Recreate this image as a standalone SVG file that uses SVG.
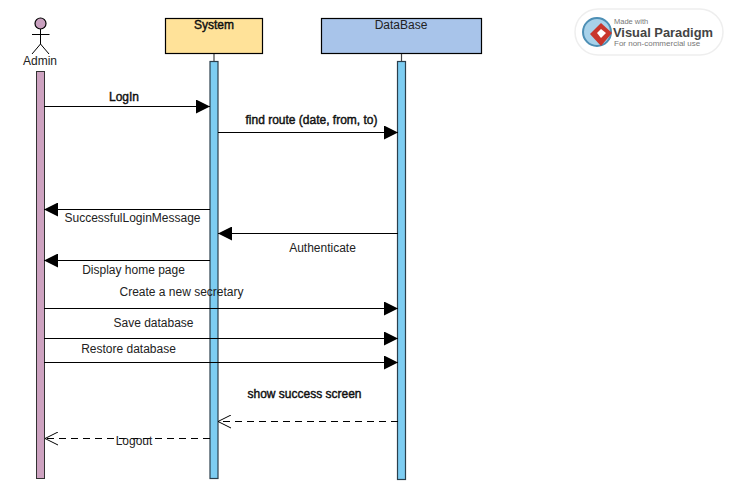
<svg xmlns="http://www.w3.org/2000/svg" width="730" height="490" viewBox="0 0 730 490">
<style>
text{font-family:"Liberation Sans",Arial,sans-serif;font-size:12px;fill:#222;text-anchor:middle}
.b{stroke:#000;stroke-width:.4px}
.m{fill:none;stroke:#000;stroke-width:1.2}
.d{stroke-dasharray:7 5}
.bar{stroke:#2b3f4c;stroke-width:1.2}
.ll{stroke:#444;stroke-width:1.2}
</style>
<defs>
<marker id="f" markerUnits="userSpaceOnUse" markerWidth="15" markerHeight="14" refX="14" refY="7" orient="auto"><path d="M0,0L14,7L0,14Z" fill="#000"/></marker>
<marker id="o" markerUnits="userSpaceOnUse" markerWidth="15" markerHeight="14" refX="14" refY="7" orient="auto"><path d="M1,0.500L14,7L1,13.500" fill="none" stroke="#000" stroke-width="1"/></marker>
</defs>
<rect width="730" height="490" fill="#fff"/>
<g id="admin">
<circle cx="40.500" cy="23.500" r="5.500" fill="#c9a0bf" stroke="#000" stroke-width="1.200"/>
<path d="M40.500 29V44M32 34.500H49.500M40.500 44L32 54M40.500 44L49 54" fill="none" stroke="#000"/>
<text x="40" y="65" fill="#333">Admin</text>
<rect x="36.500" y="71.500" width="8" height="407" fill="#cda2c0" stroke="#333"/>
</g>
<g id="system">
<line class="ll" x1="214" y1="53" x2="214" y2="62"/>
<rect x="165.500" y="18.500" width="97" height="35" fill="#ffe299" stroke="#000" stroke-width="1.200"/>
<text class="b" x="214" y="29">System</text>
<rect class="bar" x="210" y="61.500" width="8" height="417" fill="#7dcdf2"/>
</g>
<g id="database">
<line class="ll" x1="401.500" y1="53" x2="401.500" y2="62"/>
<rect x="321.500" y="18.500" width="160" height="35" fill="#a8c4ea" stroke="#000" stroke-width="1.200"/>
<text x="401" y="29">DataBase</text>
<rect class="bar" x="397.500" y="61.500" width="8" height="418" fill="#7dcdf2"/>
</g>
<g id="connectors">
<line class="m" x1="44" y1="106.500" x2="210" y2="106.500" marker-end="url(#f)"/>
<line class="m" x1="218" y1="132.500" x2="398" y2="132.500" marker-end="url(#f)"/>
<line class="m" x1="210" y1="209.500" x2="44" y2="209.500" marker-end="url(#f)"/>
<line class="m" x1="398" y1="233.500" x2="218" y2="233.500" marker-end="url(#f)"/>
<line class="m" x1="210" y1="260.500" x2="44" y2="260.500" marker-end="url(#f)"/>
<line class="m" x1="44" y1="308.500" x2="398" y2="308.500" marker-end="url(#f)"/>
<line class="m" x1="44" y1="338.500" x2="398" y2="338.500" marker-end="url(#f)"/>
<line class="m" x1="44" y1="362.500" x2="398" y2="362.500" marker-end="url(#f)"/>
<line class="m d" x1="398" y1="421.500" x2="218" y2="421.500" marker-end="url(#o)"/>
<line class="m d" x1="210" y1="438.500" x2="45" y2="438.500" marker-end="url(#o)"/>
</g>
<g id="labels">
<text class="b" x="124" y="101">LogIn</text>
<text class="b" x="311.500" y="124">find route (date, from, to)</text>
<text x="132.500" y="222">SuccessfulLoginMessage</text>
<text x="322.500" y="252">Authenticate</text>
<text x="133.500" y="274">Display home page</text>
<text x="181.500" y="296">Create a new secretary</text>
<text x="153.500" y="327">Save database</text>
<text x="128.500" y="353">Restore database</text>
<text class="b" x="304.500" y="398">show success screen</text>
<text x="134" y="445">Logout</text>
</g>
<g id="badge">
<rect x="575" y="9" width="148" height="46" rx="23" fill="#fff" stroke="#eee" stroke-width="1.500"/>
<circle cx="597" cy="32" r="14" fill="#a8d2ea" stroke="#4d8fb5" stroke-width="2"/>
<path d="M601 23L612 33L601 46L590 34Z" fill="#c8362c"/>
<path d="M601 29L606 33L601 38L597 33Z" fill="#fff"/>
<text x="614" y="24" style="font-size:7.500px;text-anchor:start;fill:#777">Made with</text>
<text x="613" y="37" textLength="100" lengthAdjust="spacingAndGlyphs" style="font-size:13px;font-weight:bold;text-anchor:start;fill:#444">Visual Paradigm</text>
<text x="614" y="46" style="font-size:8px;text-anchor:start;fill:#777">For non-commercial use</text>
</g>
</svg>
